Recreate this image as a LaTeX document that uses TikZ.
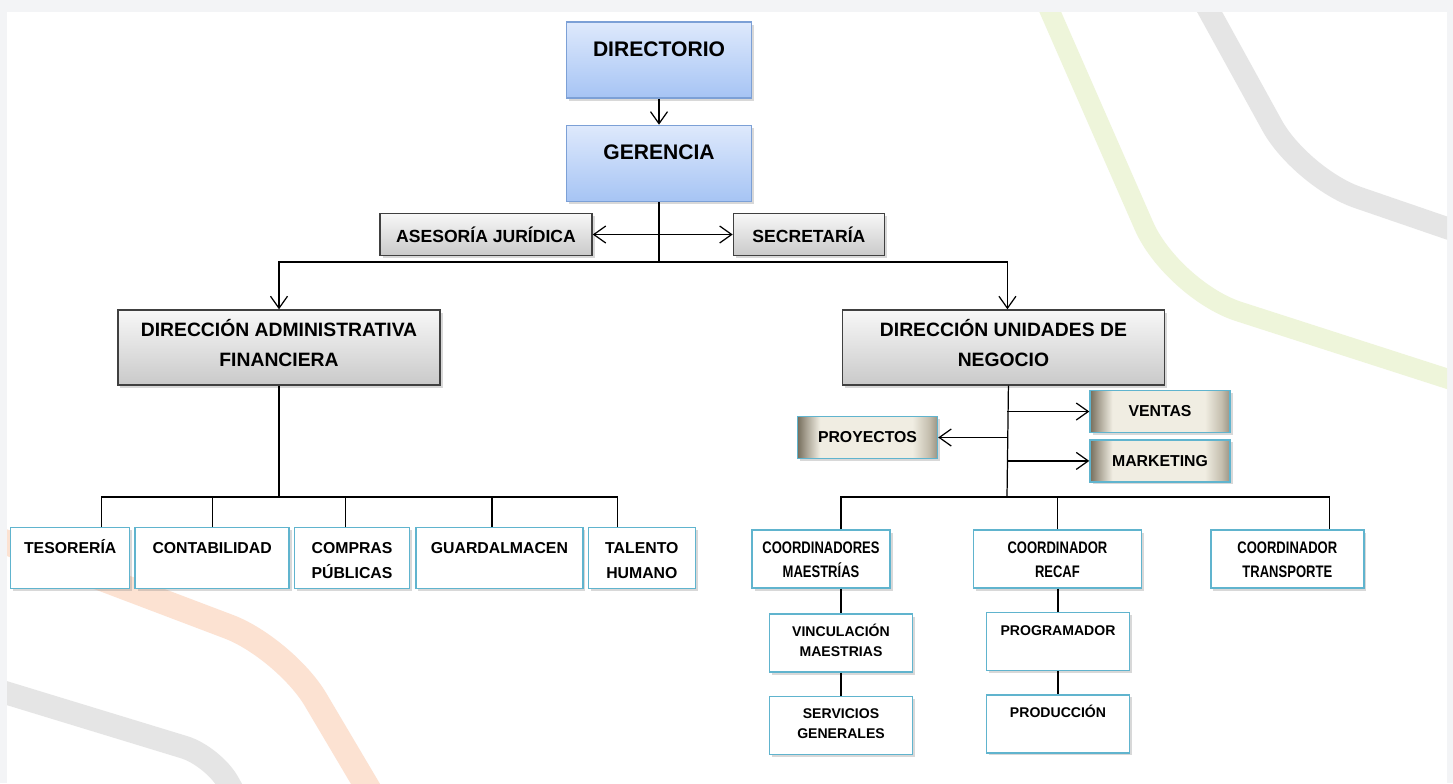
\documentclass[tikz,border=0pt]{standalone}
\usepackage{fontspec}
\setsansfont{Liberation Sans}
\newfontfamily\narrowsans[FakeStretch=0.78]{Liberation Sans}
\usetikzlibrary{positioning,arrows.meta,shadows}

\definecolor{framegray}{RGB}{243,244,246}
\definecolor{chieftop}{RGB}{222,233,252}
\definecolor{chiefbot}{RGB}{166,196,244}
\definecolor{chiefline}{RGB}{124,160,214}
\definecolor{unitline}{RGB}{96,180,206}
\definecolor{metaldark}{RGB}{118,110,92}
\definecolor{metallight}{RGB}{240,237,226}
\definecolor{metalright}{RGB}{196,190,174}
\definecolor{stripegray}{RGB}{229,229,229}
\definecolor{stripegreen}{RGB}{238,245,218}
\definecolor{stripeorange}{RGB}{252,226,210}

\pgfdeclarehorizontalshading{metalshade}{100bp}{%
  color(0bp)=(metaldark); color(25bp)=(metaldark); color(28bp)=(metaldark!60!metallight);
  color(33bp)=(metallight); color(66bp)=(metallight); color(72bp)=(metalright);
  color(75bp)=(metaldark!70!metallight); color(100bp)=(metaldark!70!metallight)}

\tikzset{
    box/.style={%
        draw, line width=0.8pt,
        align=center,
        inner xsep=1mm,
        font=\sffamily\bfseries,
        drop shadow={opacity=0.3, shadow xshift=0.5mm, shadow yshift=-0.5mm}
        },
    chief/.style={box,
        draw=chiefline, top color=chieftop, bottom color=chiefbot,
        minimum width=37mm, minimum height=15.2mm,
        inner ysep=0pt, text height=6.9mm, text depth=8.3mm,
        font=\sffamily\bfseries\fontsize{12}{14}\selectfont},
    staff/.style={box,
        draw=black!75, top color=gray!6, bottom color=gray!42,
        minimum width=#1, minimum height=8.4mm,
        font=\sffamily\bfseries\fontsize{10}{12}\selectfont},
    dept/.style={box,
        draw=black!75, top color=gray!6, bottom color=gray!42,
        minimum width=64.4mm, minimum height=15mm,
        inner ysep=0pt, text height=11.3mm, text depth=3.7mm,
        font=\sffamily\bfseries\fontsize{11}{17}\selectfont},
    sales/.style={box,
        draw=unitline, shading=metalshade,
        minimum width=28mm, minimum height=8.4mm,
        font=\sffamily\bfseries\fontsize{9}{11}\selectfont},
    unit/.style={box,
        draw=unitline, fill=white,
        minimum width=#1, minimum height=12.2mm,
        inner ysep=0pt, text height=5.2mm, text depth=7mm,
        font=\sffamily\bfseries\fontsize{9}{14.2}\selectfont},
    unit/.default=25mm,
    unit2/.style={unit=#1, text height=10.2mm, text depth=2mm},
    coord/.style={unit=#1, minimum height=11.6mm,
        text height=9.5mm, text depth=2.1mm,
        font=\narrowsans\bfseries\fontsize{9.5}{13.9}\selectfont},
    task/.style={unit=#1, minimum height=11.6mm,
        text height=4.5mm, text depth=7.1mm,
        font=\sffamily\bfseries\fontsize{8}{11.4}\selectfont},
    task/.default=28.6mm,
    task2/.style={task, text height=8.5mm, text depth=3.1mm},
    link/.style={line width=0.7pt},
    >={Straight Barb[length=2.4mm,width=3.4mm]}
}

\begin{document}
\begin{tikzpicture}[x=0.2mm, y=-0.2mm]
\useasboundingbox (0,0) rectangle (1453,783);

% page and stripes
\fill[framegray] (0,0) rectangle (1453,783);
\fill[white] (7,12) rectangle (1447,783);
\begin{scope}
\clip (7,12) rectangle (1447,783);
\draw[stripegray, line width=4.4mm, rounded corners=12mm] (1203,0) -- (1301,178) -- (1470,236);
\draw[stripegreen, line width=4mm, rounded corners=14mm] (1045,0) -- (1172,290) -- (1470,386);
\draw[stripeorange, line width=5mm, rounded corners=12mm] (0,540) -- (285,648) -- (375,800);
\draw[stripegray, line width=4.6mm, rounded corners=6mm] (0,691) -- (213,756) -- (238,800);
\end{scope}

\node[chief] (dir) at (659,60) {DIRECTORIO};
\node[chief, below=5.2mm of dir] (ger) {GERENCIA};

\node[staff=42.4mm] (ases) at (486,234.5) {ASESORÍA JURÍDICA};
\node[staff=30.2mm, right=28mm of ases] (sec) {SECRETARÍA};

\node[dept] (daf) at (279,347.5) {DIRECCIÓN ADMINISTRATIVA\\FINANCIERA};
\node[dept, right=80.2mm of daf] (dun) {DIRECCIÓN UNIDADES DE\\NEGOCIO};

\node[unit=23.8mm, anchor=north west] (tes) at (10,527) {TESORERÍA};
\node[unit=30.8mm, right=0.8mm of tes] (con) {CONTABILIDAD};
\node[unit2=23mm, right=0.8mm of con] (com) {COMPRAS\\PÚBLICAS};
\node[unit=33.4mm, right=1mm of com] (gua) {GUARDALMACEN};
\node[unit2=21.4mm, right=0.8mm of gua] (tal) {TALENTO\\HUMANO};

\node[sales] (ven) at (1160,411.5) {VENTAS};
\node[sales, below=1.2mm of ven] (mkt) {MARKETING};
\node[sales] (pro) at (867.5,437.5) {PROYECTOS};

\node[coord=27.6mm] (cm) at (821,559) {COORDINADORES\\MAESTRÍAS};
\node[coord=33.6mm, right=16.4mm of cm] (cr) {COORDINADOR\\RECAF};
\node[coord=30.6mm, right=13.6mm of cr] (ct) {COORDINADOR\\TRANSPORTE};

\node[task2] (vin) at (841,643) {VINCULACIÓN\\MAESTRIAS};
\node[task2, below=4.6mm of vin] (ser) {SERVICIOS\\GENERALES};
\node[task] (prog) at (1058,641.5) {PROGRAMADOR};
\node[task, below=4.6mm of prog] (prod) {PRODUCCIÓN};

% top
\coordinate (hub) at (659,262);
\draw[link, ->] (dir) -- (ger);
\draw[link] (ger) -- (hub);
\draw[link, <->] (ases) -- (sec);
\draw[link, ->] (hub) -| (daf.north);
\draw[link, ->] (hub) -| ([xshift=0.8mm]dun.north);

% administrativa
\coordinate (busL) at (279,497);
\draw[link] (daf) -- (busL);
\draw[link] ([xshift=6.3mm]tes.north) |- (busL);
\draw[link] ([xshift=-4.9mm]tal.north) |- (busL);
\foreach \n/\s in {con/0mm, com/-1.3mm, gua/-1.5mm}
    \draw[link] ([xshift=\s]\n.north) -- ([xshift=\s]\n.north |- busL);

% negocio
\coordinate (busR) at (1007,497);
\draw[link] ([xshift=1mm]dun.south) -- (busR);
\draw[link, ->] (busR |- ven.west) -- (ven);
\draw[link, ->] (busR |- mkt.west) -- (mkt);
\draw[link, ->] (busR |- pro.east) -- (pro);
\draw[link] ([xshift=4mm]cm.north) |- (busR) -| ([xshift=8.5mm]ct.north);
\draw[link] (cr.north) -- (cr.north |- busR);
\draw[link] (cm.south -| vin.north) -- (vin);
\draw[link] (vin) -- (ser);
\draw[link] (cr.south -| prog.north) -- (prog);
\draw[link] (prog) -- (prod);

\end{tikzpicture}
\end{document}
